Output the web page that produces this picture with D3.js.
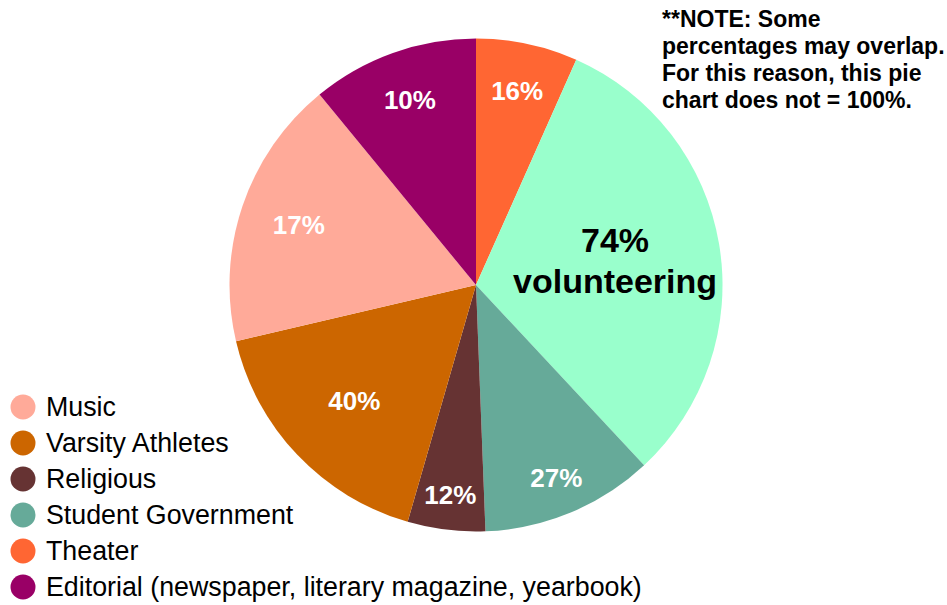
<!DOCTYPE html>
<html lang="en">
<head>
    <meta charset="UTF-8">
    <title>Activities pie</title>
    <script src="https://d3js.org/d3.v7.min.js"></script>
    <style>
        html, body { margin: 0; padding: 0; background: #fff; }
        svg text { font-family: "Liberation Sans", Arial, Helvetica, sans-serif; }
    </style>
</head>
<body>
<div id="chart"></div>

<script>
    // slices, clockwise from 12 o'clock
    const categories = ["Theater", "Volunteering", "Student Government", "Religious",
        "Varsity Athletes", "Music", "Editorial (newspaper, literary magazine, yearbook)"];
    // printed labels (they do not add up to 100, see note)
    const percentLabels = ["16%", "74%", "27%", "12%", "40%", "17%", "10%"];
    // drawn size of each slice, in degrees
    const sliceSize = [24.0, 113.0, 40.8, 18.3, 60.7, 63.8, 39.4];
    const sliceColors = ["#ff6633", "#99ffcc", "#66aa99", "#663333", "#cc6600", "#ffaa99", "#990066"];
    // legend entries, in the order shown
    const legendOrder = ["Music", "Varsity Athletes", "Religious", "Student Government", "Theater",
        "Editorial (newspaper, literary magazine, yearbook)"];
    const noteLines = ["**NOTE: Some", "percentages may overlap.", "For this reason, this pie",
        "chart does not = 100%."];

    var width = 947, height = 605;
    var cx = 476, cy = 285, radius = 246.5;
    // how far from the centre each label sits
    var labelRadius = {"Theater": 198, "Volunteering": 141, "Student Government": 209, "Religious": 212,
        "Varsity Athletes": 168, "Music": 187, "Editorial (newspaper, literary magazine, yearbook)": 196};

    var data = categories.map(function (c, i) {
        return {name: c, size: sliceSize[i], label: percentLabels[i], color: sliceColors[i]};
    });
    var colorOf = d3.scaleOrdinal().domain(categories).range(sliceColors);

    var svg = d3.select("#chart").append("svg")
        .attr("width", width)
        .attr("height", height);

    var g = svg.append("g").attr("transform", "translate(" + cx + "," + cy + ")");

    var pie = d3.pie().sort(null).value(function (d) { return d.size; });
    var arc = d3.arc().innerRadius(0).outerRadius(radius);
    var arcs = pie(data);

    g.selectAll("path.slice")
        .data(arcs)
        .enter().append("path")
        .attr("class", "slice")
        .attr("d", arc)
        .attr("fill", function (d) { return d.data.color; });

    function labelPos(d) {
        var a = (d.startAngle + d.endAngle) / 2;
        var r = labelRadius[d.data.name];
        return [Math.sin(a) * r, -Math.cos(a) * r];
    }

    // white percentage labels
    g.selectAll("text.pct")
        .data(arcs.filter(function (d) { return d.data.name !== "Volunteering"; }))
        .enter().append("text")
        .attr("class", "pct")
        .attr("x", function (d) { return labelPos(d)[0]; })
        .attr("y", function (d) { return labelPos(d)[1] + 9; })
        .attr("text-anchor", "middle")
        .style("font-size", "26px")
        .style("font-weight", "bold")
        .style("fill", "#fff")
        .text(function (d) { return d.data.label; });

    // volunteering gets the big black two-line label
    var vol = arcs.filter(function (d) { return d.data.name === "Volunteering"; })[0];
    var vp = labelPos(vol);
    var volText = g.append("text")
        .attr("text-anchor", "middle")
        .style("font-size", "34px")
        .style("font-weight", "bold")
        .style("fill", "#000");
    volText.append("tspan").attr("x", vp[0]).attr("y", vp[1] - 10).text(vol.data.label);
    volText.append("tspan").attr("x", vp[0]).attr("y", vp[1] + 31).text("volunteering");

    // legend
    var legend = svg.append("g").attr("transform", "translate(23,407)");
    var row = legend.selectAll("g.row")
        .data(legendOrder)
        .enter().append("g")
        .attr("class", "row")
        .attr("transform", function (d, i) { return "translate(0," + (i * 36) + ")"; });
    row.append("circle")
        .attr("r", 12.5)
        .attr("fill", function (d) { return colorOf(d); });
    row.append("text")
        .attr("x", 23)
        .attr("y", 8.5)
        .style("font-size", "26.8px")
        .style("fill", "#000")
        .text(function (d) { return d; });

    // note in the top right corner
    svg.append("g").selectAll("text")
        .data(noteLines)
        .enter().append("text")
        .attr("x", 662)
        .attr("y", function (d, i) { return 27 + i * 27; })
        .style("font-size", "23px")
        .style("font-weight", "bold")
        .style("fill", "#000")
        .text(function (d) { return d; });
</script>
</body>
</html>
